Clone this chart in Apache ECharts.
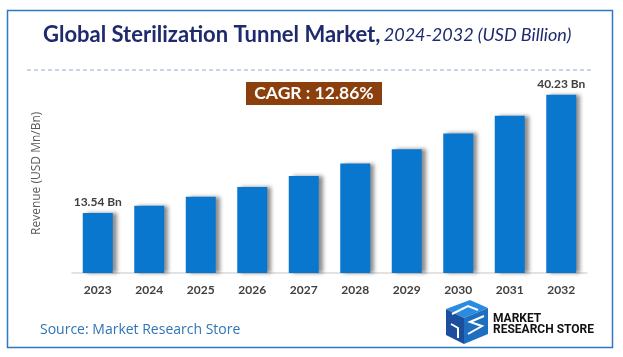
<!DOCTYPE html>
<html><head><meta charset="utf-8">
<script src="https://cdn.jsdelivr.net/npm/echarts@6/dist/echarts.min.js"></script>
<style>html,body{margin:0;padding:0;background:#fff}#c{width:623px;height:357px}</style>
</head><body><div id="c"></div>
<script>
var categories = ['2023','2024','2025','2026','2027','2028','2029','2030','2031','2032'];
var revenue = [13.54, 15.2, 17.2, 19.4, 21.9, 24.7, 27.9, 31.5, 35.5, 40.23];
var endLabels = {0: '13.54 Bn', 9: '40.23 Bn'};
var cagrText = 'CAGR : 12.86%';

var chart = echarts.init(document.getElementById('c'));
var data = revenue.map(function (v, i) {
  return {
    value: v,
    label: {
      show: endLabels[i] !== undefined,
      formatter: endLabels[i] || '',
      position: 'top', distance: 5,
      color: '#404040', fontWeight: 'bold', fontSize: 12, fontFamily: 'Lato'
    }
  };
});
chart.setOption({
  animation: false,
  grid: { left: 72, right: 36, top: 73.6, bottom: 84, containLabel: false },
  xAxis: {
    type: 'category', data: categories,
    axisLine: { lineStyle: { color: '#d9d9d9', width: 1.5 } },
    axisTick: { show: false },
    axisLabel: { color: '#404040', fontWeight: 'bold', fontSize: 12, fontFamily: 'Lato', margin: 11 }
  },
  yAxis: {
    type: 'value', min: 0, max: 45,
    name: 'Revenue (USD Mn/Bn)', nameLocation: 'middle', nameGap: 29, nameRotate: 90,
    nameTextStyle: { color: '#595959', fontSize: 12, fontFamily: 'Open Sans' },
    axisLine: { show: false }, axisTick: { show: false },
    axisLabel: { show: false }, splitLine: { show: false }
  },
  series: [{
    type: 'bar', data: data, barWidth: 30,
    itemStyle: {
      color: '#0a77cf',
      shadowColor: 'rgba(0,0,0,0.45)', shadowBlur: 4, shadowOffsetX: 4, shadowOffsetY: 0
    }
  }],
  graphic: [
    { type: 'rect', shape: { x: 7.5, y: 10.5, width: 605, height: 337 },
      style: { fill: 'none', stroke: '#2f78c4', lineWidth: 1.5 }, z: 0 },
    { type: 'text', left: 43, top: 24,
      style: {
        text: '{b|Global Sterilization Tunnel Market,} {i|2024-2032 (USD Billion)}',
        rich: {
          b: { fontFamily: 'Lato', fontWeight: 'bold', fontSize: 22, fill: '#1f2a6e' },
          i: { fontFamily: 'Lato', fontStyle: 'italic', fontSize: 18, fill: '#1f2a6e' }
        }
      } },
    { type: 'line', shape: { x1: 27, y1: 70, x2: 594, y2: 70 },
      style: { stroke: '#8fa9d9', lineWidth: 1, lineDash: [4, 3] } },
    { type: 'rect', shape: { x: 246, y: 82, width: 136, height: 23 },
      style: { fill: '#8b3f0c' } },
    { type: 'text', x: 314, y: 93.5,
      style: { text: cagrText, fill: '#ffffff', fontFamily: 'Lato', fontWeight: 'bold', fontSize: 17.5,
               textAlign: 'center', textVerticalAlign: 'middle' } },
    { type: 'text', x: 40, y: 330,
      style: { text: 'Source: Market Research Store', fill: '#2e75b6', fontFamily: 'Open Sans', fontSize: 14,
               textVerticalAlign: 'middle' } },
    // logo
    { type: 'polygon', shape: { points: [[446,309],[470,300],[488,308],[464,318]] }, style: { fill: '#2a8be0' } },
    { type: 'polygon', shape: { points: [[446,309],[464,318],[464,344],[446,335]] }, style: { fill: '#1b4e9c' } },
    { type: 'polygon', shape: { points: [[464,318],[488,308],[488,334],[464,344]] }, style: { fill: '#1f6fc0' } },
    { type: 'polyline', shape: { points: [[452,314],[468,306],[478,310]] }, style: { stroke: '#ffffff', lineWidth: 2, fill: 'none' } },
    { type: 'polyline', shape: { points: [[451,324],[458,328],[458,338]] }, style: { stroke: '#ffffff', lineWidth: 2, fill: 'none' } },
    { type: 'polyline', shape: { points: [[484,316],[470,322],[482,326],[468,334]] }, style: { stroke: '#ffffff', lineWidth: 2, fill: 'none' } },
    { type: 'text', x: 493, y: 313,
      style: { text: 'MARKET\nRESEARCH STORE', fill: '#111111', fontFamily: 'Roboto', fontWeight: 'bold',
               fontSize: 12, lineHeight: 11, textVerticalAlign: 'top' } }
  ]
});
</script></body></html>
